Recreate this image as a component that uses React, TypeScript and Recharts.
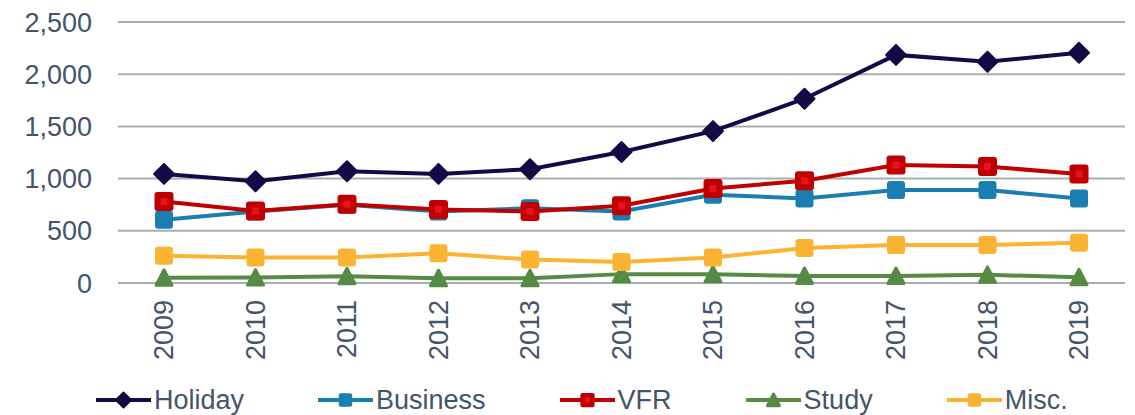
import React from 'react';
import { LineChart, Line, XAxis, YAxis, CartesianGrid, Legend } from 'recharts';

const years = ['2009', '2010', '2011', '2012', '2013', '2014', '2015', '2016', '2017', '2018', '2019'];
const holiday = [1045, 975, 1070, 1045, 1090, 1255, 1455, 1765, 2185, 2120, 2205];
const business = [605, 685, 750, 685, 715, 685, 845, 810, 890, 890, 810];
const vfr = [780, 690, 755, 705, 685, 740, 905, 980, 1130, 1115, 1045];
const study = [50, 52, 65, 45, 45, 85, 83, 67, 67, 78, 55];
const misc = [260, 245, 245, 285, 225, 200, 245, 335, 365, 365, 385];
const yTicks = [0, 500, 1000, 1500, 2000, 2500];

const data = years.map((year, i) => ({
  year,
  Holiday: holiday[i],
  Business: business[i],
  VFR: vfr[i],
  Study: study[i],
  'Misc.': misc[i],
}));

type Shape = 'diamond' | 'square' | 'vfr' | 'triangle';

const series: { key: string; color: string; shape: Shape }[] = [
  { key: 'Holiday', color: '#150A45', shape: 'diamond' },
  { key: 'Business', color: '#1A7FB0', shape: 'square' },
  { key: 'VFR', color: '#C00000', shape: 'vfr' },
  { key: 'Study', color: '#558B44', shape: 'triangle' },
  { key: 'Misc.', color: '#FBB334', shape: 'square' },
];

const TEXT = '#44546A';
const FONT = '"Liberation Sans", Arial, sans-serif';

const Marker = ({ shape, color, cx, cy, s = 1 }: { shape: Shape; color: string; cx: number; cy: number; s?: number }) => {
  if (shape === 'diamond') {
    const r = 10 * s;
    return (
      <path
        d={`M${cx},${cy - r}L${cx + r},${cy}L${cx},${cy + r}L${cx - r},${cy}Z`}
        fill={color}
        stroke={color}
        strokeWidth={2}
        strokeLinejoin="round"
      />
    );
  }
  if (shape === 'triangle') {
    const w = 8 * s;
    return (
      <path
        d={`M${cx},${cy - 8 * s}L${cx + w},${cy + 7.5 * s}L${cx - w},${cy + 7.5 * s}Z`}
        fill={color}
        stroke={color}
        strokeWidth={3}
        strokeLinejoin="round"
      />
    );
  }
  if (shape === 'vfr') {
    const h = 9.5 * s;
    const hi = 3.5 * s;
    return (
      <g>
        <rect x={cx - h} y={cy - h} width={2 * h} height={2 * h} rx={3 * s} fill={color} />
        <rect x={cx - hi} y={cy - hi} width={2 * hi} height={2 * hi} fill="#E8111F" />
      </g>
    );
  }
  const h = 9 * s;
  return <rect x={cx - h} y={cy - h} width={2 * h} height={2 * h} rx={3 * s} fill={color} />;
};

const YearTick = (props: any) => {
  const { x, y, payload } = props;
  return (
    <text
      x={x}
      y={y}
      transform={`rotate(-90 ${x} ${y})`}
      textAnchor="end"
      dominantBaseline="central"
      fill={TEXT}
      fontSize={27}
      fontFamily={FONT}
    >
      {payload.value}
    </text>
  );
};

const LegendContent = () => (
  <div
    style={{
      display: 'flex',
      alignItems: 'center',
      height: 30,
      paddingLeft: 96,
      fontFamily: FONT,
      fontSize: 27,
      color: TEXT,
      lineHeight: '30px',
    }}
  >
    {series.map((s) => (
      <div key={s.key} style={{ display: 'flex', alignItems: 'center', marginRight: 74 }}>
        <svg width={55} height={30}>
          <line x1={0} x2={55} y1={15} y2={15} stroke={s.color} strokeWidth={4} />
          <Marker shape={s.shape} color={s.color} cx={27.5} cy={15} s={0.75} />
        </svg>
        <span style={{ marginLeft: 3 }}>{s.key}</span>
      </div>
    ))}
  </div>
);

export default function App() {
  return (
    <div style={{ position: 'absolute', left: 0, top: 0, width: 1135, height: 415, background: '#fff' }}>
      <LineChart width={1135} height={415} data={data} margin={{ top: 22, right: 10, left: 0, bottom: 0 }}>
        <CartesianGrid vertical={false} stroke="#A6AFAF" strokeWidth={2} />
        <XAxis
          dataKey="year"
          axisLine={false}
          tickLine={false}
          tickMargin={11}
          height={102}
          interval={0}
          padding={{ left: 46, right: 46 }}
          tick={<YearTick />}
        />
        <YAxis
          domain={[0, 2500]}
          ticks={yTicks}
          width={118}
          axisLine={false}
          tickLine={false}
          tickMargin={20}
          tick={{ fill: TEXT, fontSize: 27, fontFamily: FONT }}
          tickFormatter={(v: number) => v.toLocaleString('en-US')}
        />
        <Legend verticalAlign="bottom" content={<LegendContent />} />
        {series.map((s) => (
          <Line
            key={s.key}
            dataKey={s.key}
            stroke={s.color}
            strokeWidth={4}
            isAnimationActive={false}
            dot={(p: any) => (
              <g key={`${s.key}-${p.index}`}>
                <Marker shape={s.shape} color={s.color} cx={p.cx} cy={p.cy} />
              </g>
            )}
            activeDot={false}
          />
        ))}
      </LineChart>
    </div>
  );
}
